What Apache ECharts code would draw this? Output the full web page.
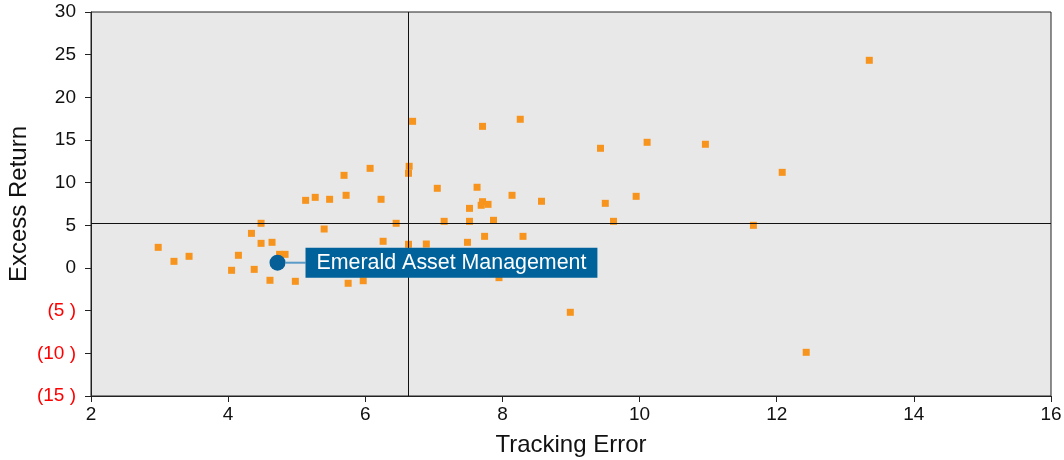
<!DOCTYPE html>
<html>
<head>
<meta charset="utf-8">
<script src="https://cdn.jsdelivr.net/npm/echarts@6/dist/echarts.min.js"></script>
<style>
html,body{margin:0;padding:0;background:#fff;}
#chart{width:1064px;height:460px;}
</style>
</head>
<body>
<div id="chart"></div>
<script>
// Peer funds: tracking error (x) and excess return (y)
var peerTracking = [2.98,3.21,3.43,4.34,4.48,4.48,4.64,4.15,4.05,4.38,4.61,4.98,4.75,4.83,5.13,5.27,
  5.48,5.72,5.69,6.07,6.23,6.69,6.64,6.63,7.05,7.63,7.52,6.45,7.15,7.52,5.40,6.26,6.63,6.89,7.49,5.75,5.97,
  7.71,8.26,9.43,8.14,8.57,9.50,7.71,7.69,7.79,7.87,9.62,7.74,8.30,7.95,
  13.35,10.11,10.96,12.08,9.95,11.66,8.99,12.43];
var peerExcess = [2.42,0.78,1.37,4.06,5.24,2.89,3.01,1.49,-0.27,-0.16,-1.44,-1.56,1.6,1.6,7.93,8.28,
  8.05,8.52,10.86,11.68,8.05,17.19,11.92,11.10,9.34,9.46,6.99,5.24,5.47,5.47,4.57,3.13,2.78,2.81,3.01,-1.79,-1.49,
  16.60,17.43,14.03,8.52,7.82,7.58,7.77,7.35,7.46,5.59,5.47,3.71,3.71,-1.13,
  24.34,14.73,14.50,11.21,8.40,5.00,-5.19,-9.88];
var highlightName = 'Emerald Asset Management';
var highlightTracking = 4.72;
var highlightExcess = 0.62;
var medianTracking = 6.62;
var medianExcess = 5.24;
var xTicks = {min: 2, max: 16, interval: 2};
var yTicks = {min: -15, max: 30, interval: 5};

var peerData = peerTracking.map(function(x, i){ return [x, peerExcess[i]]; });

var chart = echarts.init(document.getElementById('chart'), null, {renderer: 'canvas'});
var FONT = '"Liberation Sans", Arial, sans-serif';
chart.setOption({
  animation: false,
  grid: {left: 91, right: 13, top: 12, bottom: 64, containLabel: false, outerBoundsMode: 'none',
    show: true, backgroundColor: '#e8e8e8', borderColor: '#222', borderWidth: 1},
  xAxis: {
    type: 'value', min: xTicks.min, max: xTicks.max, interval: xTicks.interval,
    name: 'Tracking Error', nameLocation: 'middle', nameGap: 37, nameMoveOverlap: false,
    nameTextStyle: {fontSize: 24, color: '#111', fontFamily: FONT},
    axisLine: {show: true, onZero: false, lineStyle: {color: '#222', width: 1}},
    axisTick: {show: true, length: 6, lineStyle: {color: '#222'}},
    axisLabel: {fontSize: 19, color: '#111', fontFamily: FONT, margin: 9},
    splitLine: {show: false}
  },
  yAxis: {
    type: 'value', min: yTicks.min, max: yTicks.max, interval: yTicks.interval,
    name: 'Excess Return', nameLocation: 'middle', nameGap: 60, nameRotate: 90, nameMoveOverlap: false,
    nameTextStyle: {fontSize: 24, color: '#111', fontFamily: FONT},
    axisLine: {show: true, onZero: false, lineStyle: {color: '#222', width: 1}},
    axisTick: {show: true, length: 6, lineStyle: {color: '#222'}},
    axisLabel: {
      fontSize: 19, color: '#111', fontFamily: FONT, margin: 15,
      formatter: function(v){ return v < 0 ? '{neg|(' + (-v) + ' )}' : String(v); },
      rich: {neg: {color: '#ff0000', fontSize: 19, fontFamily: FONT}}
    },
    splitLine: {show: false}
  },
  series: [
    {
      type: 'scatter', data: peerData, symbol: 'rect', symbolSize: 7,
      itemStyle: {color: '#f7941d', opacity: 1}, z: 3,
      markLine: {
        silent: true, symbol: 'none', label: {show: false},
        lineStyle: {color: '#111', width: 1, type: 'solid'},
        data: [{xAxis: medianTracking}, {yAxis: medianExcess}]
      }
    },
    {
      type: 'scatter', data: [[highlightTracking, highlightExcess]], name: highlightName,
      symbol: 'circle', symbolSize: 16, itemStyle: {color: '#065f96', opacity: 1}, z: 5,
      label: {
        show: true, position: 'right', distance: 8,
        formatter: highlightName,
        backgroundColor: '#00629b', color: '#ffffff', fontSize: 21.4, fontFamily: FONT,
        padding: [5, 11, 4, 11]
      },
      labelLayout: {dx: 12},
      labelLine: {show: true, lineStyle: {color: '#5b9bc8', width: 2}}
    }
  ]
});
</script>
</body>
</html>
